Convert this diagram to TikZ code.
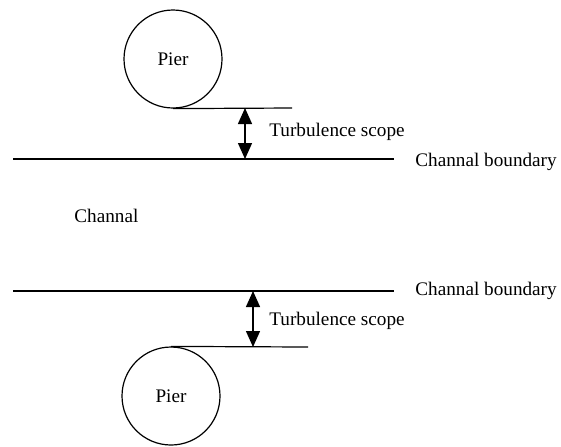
\documentclass[tikz,border=0pt]{standalone}
\usepackage{fontspec}
\setmainfont{Liberation Serif}
\usetikzlibrary{arrows.meta,positioning}

\begin{document}
\begin{tikzpicture}[x=0.5pt,y=-0.5pt,>={Triangle[width=7pt,length=8pt]},
    every node/.style={font=\fontsize{9.6}{11.5}\selectfont},
    pier/.style={shape=circle,draw,line width=0.6pt,inner sep=0pt,minimum size=49pt},
    boundary/.style={line width=0.8pt},
    tangent/.style={line width=0.6pt},
    scope/.style={<->,line width=0.7pt},
    lbl/.style={anchor=base west,inner sep=0pt}]
    \useasboundingbox (0,0) rectangle (561,446);
	% create the nodes
    \node (pierT)[pier] at (173,59) {Pier};
    \node (pierB)[pier] at (171,396) {Pier};
    \coordinate (tanT) at (292,108);
    \coordinate (tanB) at (308,347);
    \coordinate (bdT1) at (13,159);
    \coordinate (bdT2) at (394,159);
    \coordinate (bdB1) at (13,291);
    \coordinate (bdB2) at (394,291);
    \coordinate (scT1) at (245,108);
    \coordinate (scT2) at (245,159);
    \coordinate (scB1) at (253,291);
    \coordinate (scB2) at (253,347);
    \node (turbT)[lbl] at (269,136) {Turbulence scope};
    \node (turbB)[lbl] at (269,325) {Turbulence scope};
    \node (bdlT)[lbl] at (415,166) {Channal boundary};
    \node (bdlB)[lbl] at (415,295) {Channal boundary};
    \node (chan)[lbl] at (74,222) {Channal};

	% connect the nodes
    \draw[tangent] (pierT.south) -- (tanT);
    \draw[tangent] (pierB.north) -- (tanB);
    \draw[boundary] (bdT1) -- (bdT2);
    \draw[boundary] (bdB1) -- (bdB2);
    \draw[scope] (scT1) -- (scT2);
    \draw[scope] (scB1) -- (scB2);

\end{tikzpicture}
\end{document}
